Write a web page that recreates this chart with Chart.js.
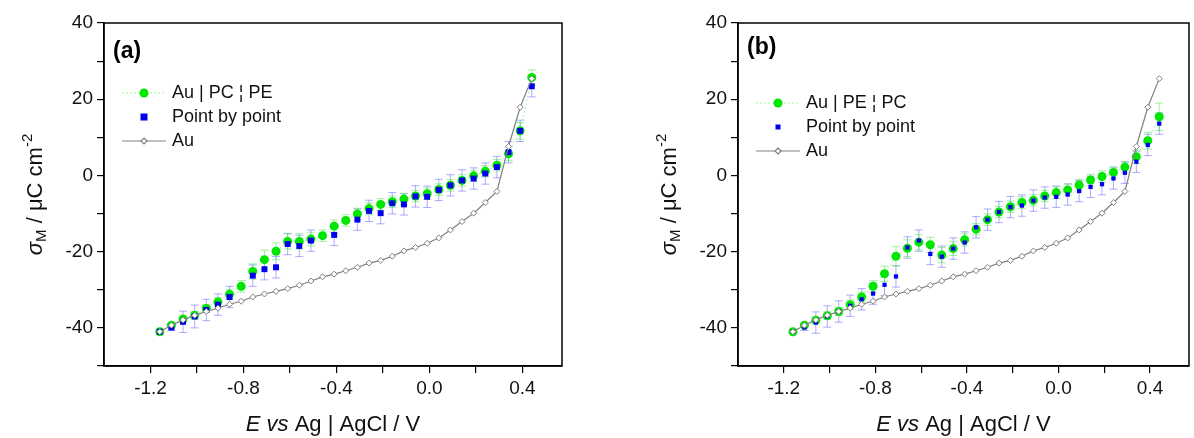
<!DOCTYPE html>
<html>
<head>
<meta charset="utf-8">
<script src="https://cdn.jsdelivr.net/npm/chart.js@4"></script>
<style>
  body { margin: 0; background: #fff; }
  .wrap { position: absolute; top: 0; width: 597px; height: 438px; }
</style>
</head>
<body>
<div class="wrap" style="left:0"><canvas id="chartA" width="597" height="438"></canvas></div>
<div class="wrap" style="left:597px"><canvas id="chartB" width="597" height="438"></canvas></div>
<script>
// potentials (V vs Ag|AgCl)
const potentials = [-1.16, -1.11, -1.06, -1.01, -0.96, -0.91, -0.86, -0.81, -0.76, -0.71, -0.66,
  -0.61, -0.56, -0.51, -0.46, -0.41, -0.36, -0.31, -0.26, -0.21, -0.16, -0.11, -0.06, -0.01,
  0.04, 0.09, 0.14, 0.19, 0.24, 0.29, 0.34, 0.39, 0.44];

const auCharge = [-41, -39.3, -37.9, -36.7, -35.7, -34.8, -33.8, -33.0, -31.9, -31.1, -30.4,
  -29.7, -28.8, -27.7, -26.6, -25.9, -25.0, -24.1, -23.0, -22.3, -21.2, -19.8, -18.9, -17.8,
  -16.4, -14.3, -12.1, -9.9, -7.1, -4.2, 7.6, 17.9, 25.4];

// panel (a): Au | PC ¦ PE
const pcpeCharge = [-41, -39.3, -37.7, -36.7, -34.9, -33.2, -31.2, -29.1, -25.2, -22.1, -19.9,
  -17.3, -17.3, -16.7, -15.8, -13.3, -11.8, -10.1, -8.7, -7.6, -6.9, -6.2, -5.4, -4.8,
  -3.7, -2.6, -1.3, -0.1, 1.1, 2.7, 5.7, 11.7, 25.7];
const pcpeErr = [0.3, 0.5, 0.8, 1, 1, 1.2, 1.3, 1.5, 2, 2.5, 2.2, 2, 2, 1.8, 1.5, 1.6, 1.5,
  1.5, 1.5, 1.5, 1.5, 1.5, 1.5, 1.5, 1.5, 1.5, 1.5, 1.5, 1.5, 1.5, 1.8, 2.2, 2];
const pcpePbp = [-41, -39.9, -38.4, -37.0, -35.3, -33.9, -31.9, null, -26.3, -24.6, -24.1,
  -18.0, -18.5, -17.1, null, -15.6, null, -11.6, -9.3, -9.9, -7.3, -7.6, -5.5, -5.6,
  -3.8, -2.6, -1.3, -0.8, 0.5, 2.2, 6.1, 11.7, 23.4];
const pcpePbpErr = [0.3, 0.8, 2.8, 3, 2.8, 2.8, 2.8, 0, 2.8, 2.8, 2.8, 2.8, 2.8, 2.8, 0, 2.8, 0,
  2.8, 2.8, 2.8, 2.8, 2.8, 2.8, 2.8, 2.8, 2.8, 2.8, 2.8, 2.8, 2.8, 2.8, 2.8, 2.8];

// panel (b): Au | PE ¦ PC
const pepcCharge = [-41, -39.3, -38.0, -36.8, -35.7, -33.9, -31.9, -29.1, -25.8, -21.2, -19.1,
  -17.5, -18.2, -20.9, -19.2, -16.9, -14.1, -11.6, -9.6, -8.2, -7.1, -6.5, -5.4, -4.5,
  -3.8, -2.5, -1.2, -0.3, 0.8, 2.2, 4.9, 9.1, 15.4];
const pepcErr = [0.3, 0.5, 0.8, 1, 1, 1.2, 1.3, 1.5, 2, 2.5, 2.2, 2, 2, 2, 1.8, 1.6, 1.5,
  1.5, 1.5, 1.5, 1.5, 1.5, 1.5, 1.5, 1.5, 1.5, 1.5, 1.5, 1.5, 1.5, 1.8, 2.2, 3.6];
const pepcPbp = [-41, -39.9, -38.6, -37.0, -35.7, -34.2, -32.5, -31.0, -28.7, -26.5, -18.9,
  -17.1, -20.6, -21.3, -19.2, -17.6, -13.6, -11.6, -9.6, -8.3, -7.9, -6.6, -5.8, -5.6,
  -5.0, -4.1, -3.0, -2.3, -0.8, 0.7, 3.6, 8.0, 13.6];
const pepcPbpErr = [0.3, 0.8, 2.8, 2.8, 2.8, 2.8, 2.8, 2.8, 2.8, 2.8, 2.8, 2.8, 2.8, 2.8,
  2.8, 2.8, 2.8, 2.8, 2.8, 2.8, 2.8, 2.8, 2.8, 2.8, 2.8, 2.8, 2.8, 2.8, 2.8, 2.8, 2.8, 2.8, 2.8];

const xTicks = [-1.2, -1.0, -0.8, -0.6, -0.4, -0.2, 0.0, 0.2, 0.4];
const yTicks = [-50, -40, -30, -20, -10, 0, 10, 20, 30, 40];

const GREEN = '#00e600';
const BLUE = '#0000ee';
const GREY = '#808080';
const FONT = "'Liberation Sans', Arial, sans-serif";

function pts(ys) {
  return potentials.map((x, i) => ({ x: x, y: ys[i] }));
}

// error bars drawn through the scales
const errorBars = {
  id: 'errorBars',
  beforeDatasetsDraw(chart) {
    const ctx = chart.ctx;
    const xs = chart.scales.x, ys = chart.scales.y;
    chart.data.datasets.forEach((ds) => {
      if (!ds.errors) return;
      ctx.save();
      ctx.strokeStyle = ds.errorColor;
      ctx.lineWidth = 1;
      ds.data.forEach((p, i) => {
        const e = ds.errors[i];
        if (p.y === null || !e) return;
        const px = xs.getPixelForValue(p.x);
        const y1 = ys.getPixelForValue(p.y + e);
        const y2 = ys.getPixelForValue(p.y - e);
        ctx.beginPath();
        ctx.moveTo(px, y1); ctx.lineTo(px, y2);
        ctx.moveTo(px - 4, y1); ctx.lineTo(px + 4, y1);
        ctx.moveTo(px - 4, y2); ctx.lineTo(px + 4, y2);
        ctx.stroke();
      });
      ctx.restore();
    });
  }
};

// frame, panel letter, legend and axis titles
const decorations = {
  id: 'decorations',
  afterDraw(chart, args, opts) {
    const ctx = chart.ctx;
    const a = chart.chartArea;
    ctx.save();
    ctx.strokeStyle = '#000';
    ctx.lineWidth = 1.5;
    ctx.strokeRect(a.left, a.top, a.right - a.left, a.bottom - a.top);

    ctx.fillStyle = '#000';
    ctx.textBaseline = 'middle';
    ctx.font = 'bold 23px ' + FONT;
    ctx.fillText(opts.letter, a.left + 9, a.top + opts.letterDy);

    // legend
    const lx = a.left + 18, ly = a.top + opts.legendDy;
    ctx.font = '18px ' + FONT;
    ctx.strokeStyle = '#9f9';
    ctx.setLineDash([2, 2]);
    ctx.lineWidth = 1;
    ctx.beginPath(); ctx.moveTo(lx, ly); ctx.lineTo(lx + 44, ly); ctx.stroke();
    ctx.setLineDash([]);
    ctx.fillStyle = GREEN;
    ctx.beginPath(); ctx.arc(lx + 22, ly, 4.5, 0, Math.PI * 2); ctx.fill();
    ctx.fillStyle = BLUE;
    const s = opts.pbpSize;
    ctx.fillRect(lx + 22 - s / 2, ly + 24 - s / 2, s, s);
    ctx.strokeStyle = GREY;
    ctx.lineWidth = 1.2;
    ctx.beginPath(); ctx.moveTo(lx, ly + 48); ctx.lineTo(lx + 44, ly + 48); ctx.stroke();
    ctx.fillStyle = '#fff';
    ctx.beginPath();
    ctx.moveTo(lx + 22, ly + 45); ctx.lineTo(lx + 25, ly + 48);
    ctx.lineTo(lx + 22, ly + 51); ctx.lineTo(lx + 19, ly + 48); ctx.closePath();
    ctx.fill(); ctx.stroke();
    ctx.fillStyle = '#111';
    ctx.fillText(opts.label, lx + 50, ly);
    ctx.fillText('Point by point', lx + 50, ly + 24);
    ctx.fillText('Au', lx + 50, ly + 48);

    // x title
    const parts = [['E', true], [' vs', true], [' Ag | AgCl / V', false]];
    let w = 0;
    parts.forEach(p => { ctx.font = (p[1] ? 'italic ' : '') + '22px ' + FONT; w += ctx.measureText(p[0]).width; });
    let x = (a.left + a.right) / 2 - w / 2;
    parts.forEach(p => {
      ctx.font = (p[1] ? 'italic ' : '') + '22px ' + FONT;
      ctx.fillText(p[0], x, 425);
      x += ctx.measureText(p[0]).width;
    });

    // y title
    ctx.translate(a.left - 68, (a.top + a.bottom) / 2);
    ctx.rotate(-Math.PI / 2);
    const yparts = [['σ', 'italic 22px ', 0], ['M', '15px ', 6], [' / μC cm', '22px ', 0], ['-2', '15px ', -8]];
    w = 0;
    yparts.forEach(p => { ctx.font = p[1] + FONT; w += ctx.measureText(p[0]).width; });
    x = -w / 2;
    yparts.forEach(p => {
      ctx.font = p[1] + FONT;
      ctx.fillText(p[0], x, p[2]);
      x += ctx.measureText(p[0]).width;
    });
    ctx.restore();
  }
};

function makeChart(id, label, main, mainErr, pbp, pbpErr, letter, pad, legendDy, letterDy, pbpSize) {
  new Chart(document.getElementById(id), {
    type: 'scatter',
    data: {
      datasets: [
        { label: 'Au', data: pts(auCharge), showLine: true, borderColor: GREY, borderWidth: 1.2,
          pointStyle: 'rectRot', pointRadius: 3, pointBackgroundColor: '#fff',
          pointBorderColor: GREY, pointBorderWidth: 1, order: 0 },
        { label: 'Point by point', data: pts(pbp), showLine: false, backgroundColor: BLUE,
          pointStyle: 'rect', pointRadius: pbpSize * 0.6, pointBorderWidth: 0,
          errors: pbpErr, errorColor: 'rgba(90,90,255,0.5)', order: 1 },
        { label: label, data: pts(main), showLine: true, borderColor: '#a6f5a6', borderWidth: 1,
          borderDash: [2, 2], backgroundColor: GREEN, pointBackgroundColor: GREEN,
          pointBorderWidth: 0, pointRadius: 4.5, errors: mainErr, errorColor: 'rgba(80,230,80,0.55)', order: 2 }
      ]
    },
    options: {
      responsive: false,
      animation: false,
      layout: { padding: pad },
      plugins: { legend: { display: false }, tooltip: { enabled: false },
        decorations: { letter: letter, label: label, legendDy: legendDy, letterDy: letterDy, pbpSize: pbpSize } },
      scales: {
        x: {
          min: -1.4, max: 0.57,
          afterBuildTicks: s => { s.ticks = xTicks.map(v => ({ value: v })); },
          afterFit: s => { s.height = 72; },
          ticks: { color: '#111', font: { size: 19, family: FONT }, padding: 4,
            callback: v => (Math.round(v * 10) % 4 === 0 ? v.toFixed(1) : '') },
          grid: { drawOnChartArea: false, tickLength: 7, color: '#000', lineWidth: 1.2 },
          border: { color: '#000', width: 1.5 }
        },
        y: {
          min: -50, max: 40,
          afterBuildTicks: s => { s.ticks = yTicks.map(v => ({ value: v })); },
          afterFit: s => { s.width = 104; },
          ticks: { color: '#111', font: { size: 19, family: FONT }, padding: 4,
            callback: v => (v % 20 === 0 ? String(v) : '') },
          grid: { drawOnChartArea: false, tickLength: 7, color: '#000', lineWidth: 1.2 },
          border: { color: '#000', width: 1.5 }
        }
      }
    },
    plugins: [errorBars, decorations]
  });
}

makeChart('chartA', 'Au | PC ¦ PE', pcpeCharge, pcpeErr, pcpePbp, pcpePbpErr, '(a)',
  { left: 0, right: 35, top: 23, bottom: 0 }, 70, 29, 7);
makeChart('chartB', 'Au | PE ¦ PC', pepcCharge, pepcErr, pepcPbp, pepcPbpErr, '(b)',
  { left: 37, right: 3, top: 23, bottom: 0 }, 80, 25, 5);
</script>
</body>
</html>
